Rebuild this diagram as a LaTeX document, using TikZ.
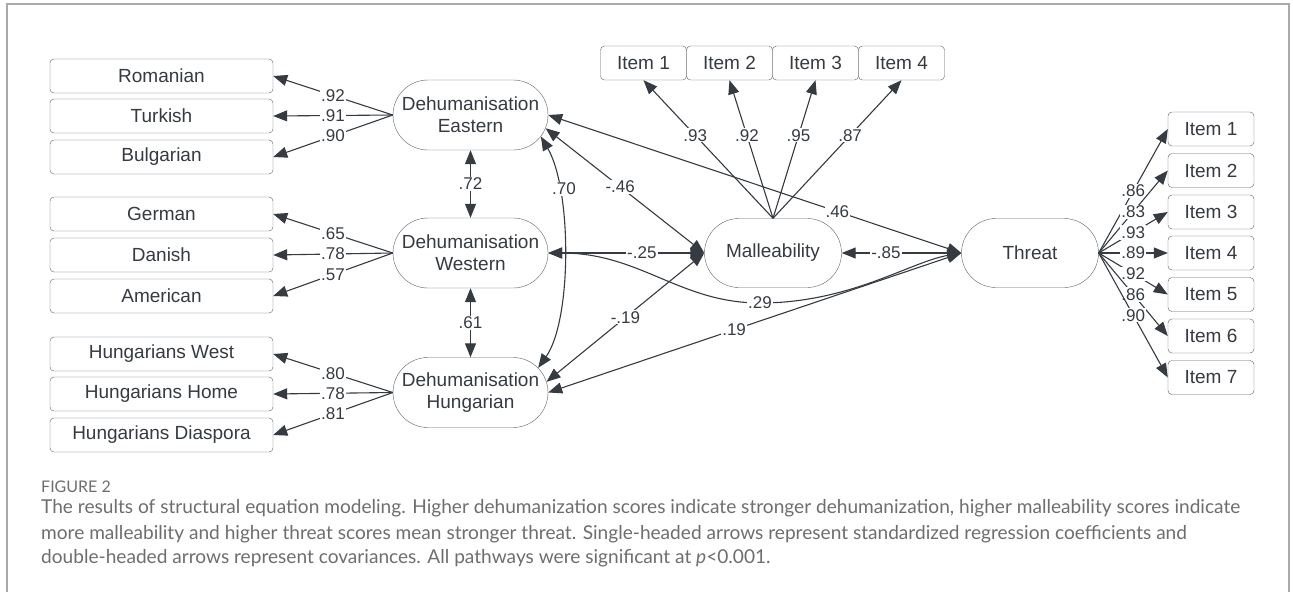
\documentclass[tikz,border=0pt]{standalone}
\usepackage{fontspec}
\setmainfont{Liberation Sans}
\newfontfamily\capfont{Lato}
\usepackage{tikz}
\usetikzlibrary{positioning, shapes.misc, arrows.meta}
\definecolor{ink}{HTML}{363B42}
\definecolor{capgray}{HTML}{6E6E6E}
\definecolor{framegray}{HTML}{AAAAAA}

\begin{document}
\begin{tikzpicture}[x=1pt,y=-1pt,
    obsbox/.style={draw=ink!80, rounded corners=4pt, minimum width=223pt, minimum height=34pt, inner sep=0pt, font=\fontsize{19}{22}\selectfont, text=ink},
    itembox/.style={obsbox, minimum width=86pt},
    latbox/.style={draw=ink!80, rounded rectangle, minimum width=155pt, minimum height=70pt, inner sep=0pt, align=center, font=\fontsize{19}{22}\selectfont, text=ink},
    coef/.style={fill=white, inner sep=1pt, font=\fontsize{17}{17}\selectfont, text=ink},
    link/.style={draw=ink, line width=1.1pt, -{Triangle[length=14pt,width=11pt]}},
    twoway/.style={link, {Triangle[length=14pt,width=11pt]}-{Triangle[length=14pt,width=11pt]}}]
    \fill[white] (0,0) rectangle (1293,592);
    \useasboundingbox (0,0) rectangle (1293,592);
    \draw[framegray, line width=1.2pt] (7,592) -- (7,4) -- (1289,4) -- (1289,592);

    % indicators of the three dehumanisation factors
    \node[obsbox] (rom) at (161.5,76) {Romanian};
    \node[obsbox] (tur) at (161.5,116) {Turkish};
    \node[obsbox] (bul) at (161.5,157) {Bulgarian};
    \node[obsbox] (ger) at (161.5,214) {German};
    \node[obsbox] (dan) at (161.5,255) {Danish};
    \node[obsbox] (ame) at (161.5,296) {American};
    \node[obsbox] (hwe) at (161.5,354) {Hungarians West};
    \node[obsbox] (hho) at (161.5,394) {Hungarians Home};
    \node[obsbox] (hdi) at (161.5,435) {Hungarians Diaspora};

    % latent variables
    \node[latbox] (eas) at (470.5,115) {Dehumanisation\\Eastern};
    \node[latbox] (wes) at (470.5,253) {Dehumanisation\\Western};
    \node[latbox] (hun) at (470.5,392.5) {Dehumanisation\\Hungarian};
    \node[latbox, minimum width=137pt, minimum height=69pt] (mal) at (773,253) {Malleability};
    \node[latbox, minimum width=137pt, minimum height=69pt] (thr) at (1030,253) {Threat};

    % malleability items
    \node[itembox] (m1) at (643.5,63) {Item 1};
    \node[itembox] (m2) at (729.5,63) {Item 2};
    \node[itembox] (m3) at (815.5,63) {Item 3};
    \node[itembox] (m4) at (901.5,63) {Item 4};

    % threat items
    \node[itembox] (t1) at (1211,129) {Item 1};
    \node[itembox] (t2) at (1211,170.5) {Item 2};
    \node[itembox] (t3) at (1211,212) {Item 3};
    \node[itembox] (t4) at (1211,253) {Item 4};
    \node[itembox] (t5) at (1211,294.5) {Item 5};
    \node[itembox] (t6) at (1211,336) {Item 6};
    \node[itembox] (t7) at (1211,377.5) {Item 7};

    % loadings
    \draw[link] (eas.west) -- (rom.east) node[midway,coef]{.92};
    \draw[link] (eas.west) -- (tur.east) node[midway,coef]{.91};
    \draw[link] (eas.west) -- (bul.east) node[midway,coef]{.90};
    \draw[link] (wes.west) -- (ger.east) node[midway,coef]{.65};
    \draw[link] (wes.west) -- (dan.east) node[midway,coef]{.78};
    \draw[link] (wes.west) -- (ame.east) node[midway,coef]{.57};
    \draw[link] (hun.west) -- (hwe.east) node[midway,coef]{.80};
    \draw[link] (hun.west) -- (hho.east) node[midway,coef]{.78};
    \draw[link] (hun.west) -- (hdi.east) node[midway,coef]{.81};

    \draw[link] (mal.north) -- (m1.south) node[pos=0.6,coef]{.93};
    \draw[link] (mal.north) -- (m2.south) node[pos=0.6,coef]{.92};
    \draw[link] (mal.north) -- (m3.south) node[pos=0.6,coef]{.95};
    \draw[link] (mal.north) -- (m4.south) node[pos=0.6,coef]{.87};

    \draw[link] (thr.east) -- (t1.west) node[midway,coef]{.86};
    \draw[link] (thr.east) -- (t2.west) node[midway,coef]{.83};
    \draw[link] (thr.east) -- (t3.west) node[midway,coef]{.93};
    \draw[link] (thr.east) -- (t4.west) node[midway,coef]{.89};
    \draw[link] (thr.east) -- (t5.west) node[midway,coef]{.92};
    \draw[link] (thr.east) -- (t6.west) node[midway,coef]{.86};
    \draw[link] (thr.east) -- (t7.west) node[midway,coef]{.90};

    % structural part
    \draw[twoway] (eas.south) -- (wes.north) node[midway,coef]{.72};
    \draw[twoway] (wes.south) -- (hun.north) node[midway,coef]{.61};
    \draw[twoway] (eas.-17) .. controls (572,190) and (572,320) .. (hun.20);
    \node[coef] (c70) at (564,189) {.70};
    \draw[twoway] (eas.-10) -- (mal.west) node[pos=0.47,coef]{-.46};
    \draw[twoway] (wes.east) -- (mal.west) node[pos=0.6,coef]{-.25};
    \draw[twoway] (hun.8) -- (mal.west) node[midway,coef]{-.19};
    \draw[twoway] (eas.east) -- (thr.west) node[pos=0.7,coef]{.46};
    \draw[twoway] (mal.east) -- (thr.west) node[pos=0.37,coef]{-.85};
    \draw[twoway] (wes.east) .. controls (640,253) and (680,303) .. (760,303) node[coef]{.29}
        .. controls (850,303) and (910,262) .. (thr.west);
    \draw[twoway] (hun.east) -- (thr.west) node[pos=0.45,coef]{.19};

    % caption
    \node[anchor=west, inner sep=0pt, text=capgray, font=\capfont\fontsize{16}{18}\selectfont] (fig) at (41,487) {FIGURE 2};
    \node[anchor=west, inner sep=0pt, text=capgray, font=\capfont\fontsize{19.1}{22}\selectfont] (cap1) at (41,508) {The results of structural equation modeling. Higher dehumanization scores indicate stronger dehumanization, higher malleability scores indicate};
    \node[anchor=west, inner sep=0pt, text=capgray, font=\capfont\fontsize{19.1}{22}\selectfont] (cap2) at (41,534) {more malleability and higher threat scores mean stronger threat. Single-headed arrows represent standardized regression coefficients and};
    \node[anchor=west, inner sep=0pt, text=capgray, font=\capfont\fontsize{19.1}{22}\selectfont] (cap3) at (41,558) {double-headed arrows represent covariances. All pathways were significant at \textit{p}<0.001.};
\end{tikzpicture}
\end{document}
